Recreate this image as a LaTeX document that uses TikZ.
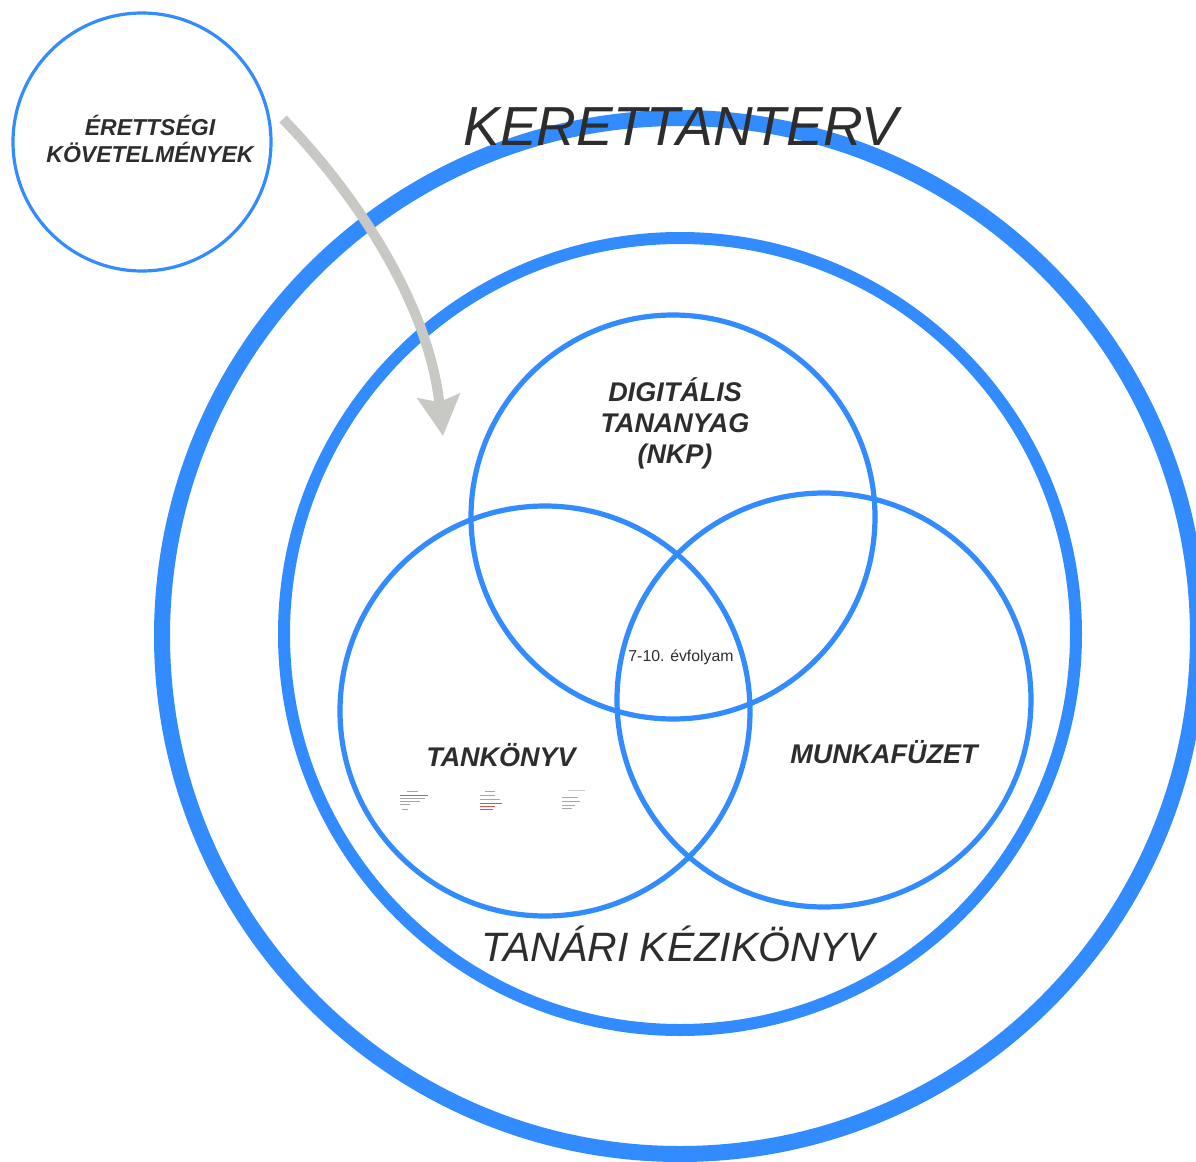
\documentclass[tikz,border=0pt]{standalone}
\usepackage{fontspec}
\setsansfont{Liberation Sans}
\usetikzlibrary{arrows.meta}

\definecolor{ringblue}{RGB}{51,140,255}
\definecolor{arrowgray}{RGB}{200,200,196}
\definecolor{textgray}{RGB}{45,45,45}
\definecolor{thumbred}{RGB}{225,80,80}

\begin{document}
\begin{tikzpicture}[x=0.5pt, y=-0.5pt, every node/.style={text=textgray, font=\sffamily},
  ring/.style={circle, draw=ringblue, inner sep=0pt},
  bigtitle/.style={font=\sffamily\itshape},
  label/.style={font=\sffamily\bfseries\itshape\fontsize{13.5}{15.5}\selectfont, align=center},
  thumb/.style={line width=0.3pt, gray!70}]

\useasboundingbox (0,0) rectangle (1196,1162);
\clip (0,0) rectangle (1196,1162);

% Outer rings
\node[ring, line width=8pt, minimum size=518pt] (kerettanterv) at (680,636) {};
\node[ring, line width=6pt, minimum size=396pt] (kezikonyv) at (680,634) {};

% Venn circles
\node[ring, line width=2.6pt, minimum size=202pt] (digitalis) at (673,517) {};
\node[ring, line width=2.6pt, minimum size=205pt] (tankonyv) at (545,711) {};
\node[ring, line width=2.6pt, minimum size=207pt] (munkafuzet) at (824,700) {};

% Requirements circle
\node[ring, line width=1.6pt, minimum size=129pt] (erettsegi) at (142,142) {};

% Arrow
\coordinate (arrowstart) at (283,119);
\coordinate (arrowend) at (443,436);
\draw[arrowgray, line width=5pt, -{Stealth[length=20pt, width=21pt, inset=3pt]}]
  (arrowstart) .. controls (352,190) and (428,300) .. (arrowend);

% Thumbnails
\draw[thumb] (407,791) -- (418,791);
\draw[thumb, thumbred] (400,795) -- (428,795);
\draw[thumb] (400,798) -- (425,798);
\draw[thumb] (400,801) -- (420,801);
\draw[thumb] (400,804) -- (410,804);
\draw[thumb] (402,809) -- (408,809);
\draw[thumb] (485,791) -- (495,791);
\draw[thumb] (480,795) -- (495,795);
\draw[thumb] (480,799) -- (500,799);
\draw[thumb, thumbred] (480,803) -- (502,803);
\draw[thumb, thumbred] (480,806) -- (495,806);
\draw[thumb, thumbred] (480,809) -- (493,809);
\draw[thumb, gray!40] (568,790) -- (585,790);
\draw[thumb] (562,797) -- (578,797);
\draw[thumb] (562,801) -- (580,801);
\draw[thumb] (562,805) -- (575,805);
\draw[thumb] (562,808) -- (572,808);

% Labels
\node[bigtitle, font=\sffamily\itshape\fontsize{27.5}{30}\selectfont, anchor=base] (kerettanterv label) at (681,145) {KERETTANTERV};
\node[bigtitle, font=\sffamily\itshape\fontsize{20.5}{24}\selectfont, anchor=base] (kezikonyv label) at (678,961) {TANÁRI KÉZIKÖNYV};
\node[label, font=\sffamily\bfseries\itshape\fontsize{11.5}{13.5}\selectfont] (erettsegi label) at (150,139) {ÉRETTSÉGI\\KÖVETELMÉNYEK};
\node[label] (digitalis label) at (675,423) {DIGITÁLIS\\TANANYAG\\(NKP)};
\node[label] (tankonyv label) at (501,755) {TANKÖNYV};
\node[label] (munkafuzet label) at (884,752) {MUNKAFÜZET};
\node[font=\sffamily\fontsize{7.9}{9}\selectfont] (evfolyam) at (681,657) {7-10. évfolyam};

\end{tikzpicture}
\end{document}
